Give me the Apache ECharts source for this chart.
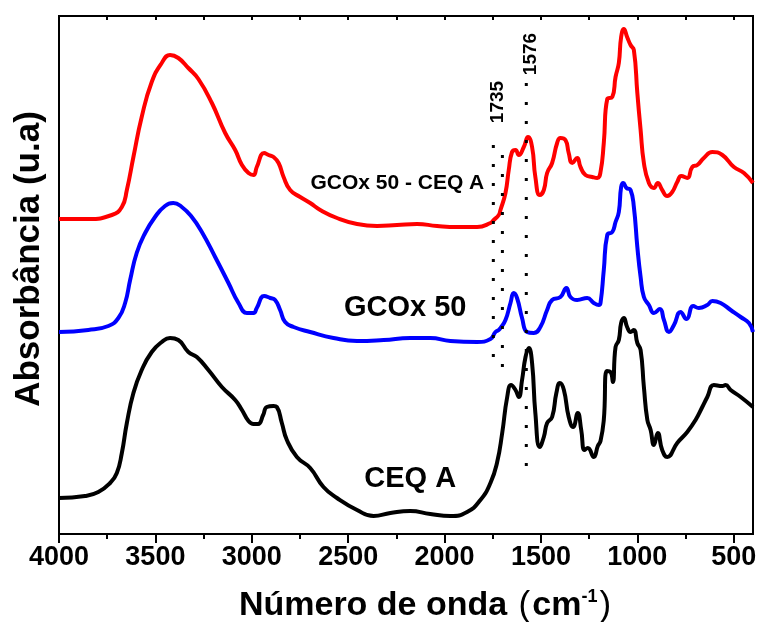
<!DOCTYPE html>
<html><head><meta charset="utf-8">
<script src="https://cdn.jsdelivr.net/npm/echarts@6/dist/echarts.min.js"></script>
<style>html,body{margin:0;padding:0;background:#fff}#c{width:760px;height:622px}</style>
</head><body><div id="c"></div>
<script>
// Wavenumber tick labels (cm-1)
const majorTicks = [4000, 3500, 3000, 2500, 2000, 1500, 1000, 500];
const minorTicks = [3750, 3250, 2750, 2250, 1750, 1250, 750];

// Spectra: [wavenumber, absorbance (a.u., offset stacked)]
const ceqA = [[4000,36],[3865,38],[3796,42],[3735,51],[3700,61],[3674,81],[3648,111],[3614,141],[3571,164],[3519,182],[3467,192],[3424,196],[3381,194],[3329,182],[3285,177],[3225,164],[3155,147],[3086,134],[3051,124],[3017,113],[2991,110],[2967,110],[2941,119],[2922,127],[2887,128],[2870,127],[2844,111],[2818,94],[2766,77],[2697,66],[2628,47],[2558,36],[2454,24],[2368,18],[2281,21],[2178,23],[2074,20],[1970,18],[1883,22],[1814,34],[1762,51],[1727,72],[1701,101],[1675,137],[1655,149],[1632,144],[1615,137],[1598,154],[1580,177],[1563,186],[1546,171],[1529,121],[1506,87],[1485,97],[1468,111],[1442,117],[1420,141],[1402,151],[1381,144],[1356,117],[1333,107],[1309,121],[1291,104],[1274,84],[1257,86],[1226,77],[1205,88],[1191,93],[1174,114],[1158,163],[1139,162],[1127,152],[1113,187],[1096,194],[1084,211],[1070,216],[1053,207],[1035,202],[1018,204],[1000,191],[983,184],[966,147],[948,114],[931,104],[914,89],[894,101],[871,84],[845,77],[793,91],[741,102],[698,114],[663,127],[637,137],[603,149],[559,148],[542,149],[516,144],[464,137],[400,127]];

const gcox50 = [[4000,202],[3848,204],[3744,208],[3692,216],[3657,231],[3631,254],[3597,281],[3553,301],[3502,317],[3450,328],[3407,331],[3363,327],[3311,317],[3259,302],[3190,277],[3121,251],[3069,231],[3025,221],[2991,221],[2974,226],[2936,238],[2904,236],[2879,234],[2853,224],[2827,212],[2783,207],[2697,202],[2576,196],[2454,193],[2316,194],[2178,196],[2074,196],[1970,193],[1831,192],[1762,195],[1736,202],[1719,204],[1710,206],[1684,214],[1658,231],[1641,241],[1624,236],[1598,216],[1572,202],[1537,201],[1503,207],[1468,224],[1442,234],[1399,237],[1368,246],[1347,237],[1312,234],[1260,236],[1226,231],[1200,229],[1191,231],[1174,264],[1156,299],[1130,302],[1113,312],[1096,322],[1084,347],[1073,351],[1056,346],[1035,344],[1018,327],[1000,287],[983,257],[966,237],[940,229],[914,221],[883,225],[862,214],[836,202],[810,209],[776,222],[745,215],[710,228],[681,226],[637,229],[611,233],[568,231],[516,224],[464,217],[421,211],[400,202]];

const gcox50ceqA = [[4000,315],[3848,315],[3726,319],[3674,327],[3648,344],[3614,377],[3571,417],[3519,452],[3467,471],[3424,479],[3381,476],[3329,466],[3277,455],[3207,431],[3138,401],[3086,384],[3051,369],[3017,361],[2991,359],[2974,367],[2936,381],[2913,379],[2887,377],[2861,371],[2835,357],[2801,344],[2749,337],[2697,331],[2645,324],[2558,316],[2454,310],[2350,308],[2247,309],[2143,310],[2039,308],[1935,307],[1831,307],[1762,311],[1745,314],[1719,319],[1710,324],[1684,341],[1667,364],[1650,382],[1632,384],[1615,379],[1589,387],[1567,397],[1546,387],[1529,357],[1506,339],[1485,344],[1468,361],[1442,371],[1416,391],[1399,396],[1373,394],[1356,381],[1338,371],[1312,376],[1295,367],[1269,359],[1234,357],[1208,356],[1191,362],[1174,391],[1156,435],[1130,437],[1113,457],[1096,471],[1084,497],[1070,505],[1053,497],[1035,489],[1018,484],[1000,441],[983,404],[966,371],[940,351],[914,346],[894,351],[871,344],[845,338],[819,342],[793,352],[772,358],[741,356],[715,367],[689,369],[655,376],[611,382],[559,379],[499,367],[447,361],[400,351]];

// Marked bands (cm-1) and their dotted guide extents
const band1735 = [[1747,389],[1747,167]];
const band1735b = [[1700,389],[1700,167]];
const band1576 = [[1576,451],[1576,56]];
const bandLabels = [[1726,432,'1735'],[1555,480,'1576']];
const seriesLabels = [[2245,351,'GCOx 50 - CEQ A',21],[2204,226,'GCOx 50',29],[2178,55,'CEQ A',29]];

const FONT = '"Liberation Sans", Arial, sans-serif';
const chart = echarts.init(document.getElementById('c'), null, {renderer:'canvas'});

function curve(data, color){
  return {type:'line', data:data, showSymbol:false, smooth:0.5,
    lineStyle:{color:color, width:4}, itemStyle:{color:color}, silent:true, z:3};
}
function dotted(data, offset){
  return {type:'line', data:data, showSymbol:false, silent:true, z:4,
    lineStyle:{color:'#000', width:3, type:[3,16], dashOffset:offset, cap:'butt'}};
}

chart.setOption({
  animation:false,
  grid:{left:59, right:7, top:16, bottom:88, outerBoundsMode:'none', containLabel:false,
    show:true, borderColor:'#000', borderWidth:2, backgroundColor:'#fff'},
  xAxis:[{
    type:'value', inverse:true, min:400, max:4000,
    axisLine:{show:true, lineStyle:{color:'#000', width:2}},
    axisTick:{show:true, inside:false, length:9, lineStyle:{color:'#000', width:2}, customValues:majorTicks},
    axisLabel:{show:true, customValues:majorTicks, formatter:v=>String(v), color:'#000', fontFamily:FONT, fontWeight:'bold', fontSize:27, margin:10},
    splitLine:{show:false},
    name:'{b|Número de onda }{n|(}{b|cm}{s|-1}{n|)}', nameLocation:'middle', nameGap:54,
    nameTextStyle:{padding:[0,0,0,40], rich:{
      b:{fontFamily:FONT, fontWeight:'bold', fontSize:34, color:'#000'},
      n:{fontFamily:FONT, fontWeight:'normal', fontSize:35, color:'#000', padding:[0,2,0,2]},
      s:{fontFamily:FONT, fontWeight:'bold', fontSize:18, color:'#000', verticalAlign:'top', padding:[0,0,18,0]}
    }}
  },{
    type:'value', inverse:true, min:400, max:4000, position:'bottom',
    axisLine:{show:false},
    axisTick:{show:true, length:5, lineStyle:{color:'#000', width:2}, customValues:minorTicks},
    axisLabel:{show:false}, splitLine:{show:false}
  },{
    type:'value', inverse:true, min:400, max:4000, position:'top',
    axisLine:{show:true, lineStyle:{color:'#000', width:2}},
    axisTick:{show:true, inside:true, length:4, lineStyle:{color:'#000', width:2}, customValues:majorTicks.concat(minorTicks)},
    axisLabel:{show:false}, splitLine:{show:false}
  }],
  yAxis:[{
    type:'value', min:0, max:518,
    axisLine:{show:true, lineStyle:{color:'#000', width:2}},
    axisTick:{show:false}, axisLabel:{show:false}, splitLine:{show:false},
    name:'Absorbância (u.a)', nameLocation:'middle', nameGap:12,
    nameTextStyle:{fontFamily:FONT, fontWeight:'bold', fontSize:35, color:'#000', padding:[0,0,0,32]}
  },{
    type:'value', min:0, max:518, position:'right',
    axisLine:{show:true, lineStyle:{color:'#000', width:2}},
    axisTick:{show:false}, axisLabel:{show:false}, splitLine:{show:false}
  }],
  series:[
    curve(ceqA,'#000000'),
    curve(gcox50,'#0000ff'),
    curve(gcox50ceqA,'#ff0000'),
    dotted(band1735,0),
    dotted(band1735b,9),
    dotted(band1576,0),
    {type:'scatter', symbolSize:1, itemStyle:{opacity:0}, silent:true, z:5,
      data:bandLabels.map(d=>({value:[d[0],d[1]], name:d[2]})),
      label:{show:true, position:'inside', rotate:90, formatter:p=>p.name,
        fontFamily:FONT, fontWeight:'bold', fontSize:19, color:'#000', opacity:1}},
    {type:'scatter', symbolSize:1, itemStyle:{opacity:0}, silent:true, z:5,
      data:seriesLabels.map(d=>({value:[d[0],d[1]], name:d[2],
        label:{fontSize:d[3], color:'#000', fontFamily:FONT, fontWeight:'bold'}})),
      label:{show:true, position:'inside', formatter:p=>p.name,
        fontFamily:FONT, fontWeight:'bold', color:'#000', opacity:1}}
  ]
});
</script></body></html>
